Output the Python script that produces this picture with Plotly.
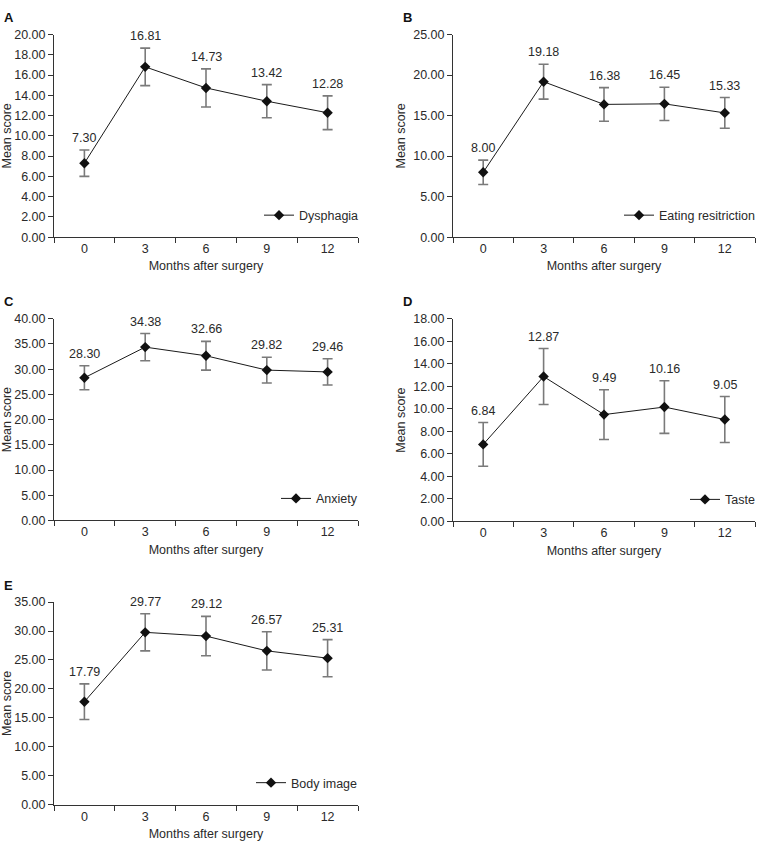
import plotly.graph_objects as go

months = ["0", "3", "6", "9", "12"]

dysphagia = [7.30, 16.81, 14.73, 13.42, 12.28]
dysphagia_err = [1.30, 1.85, 1.88, 1.64, 1.67]

eating = [8.00, 19.18, 16.38, 16.45, 15.33]
eating_err = [1.50, 2.15, 2.07, 2.05, 1.90]

anxiety = [28.30, 34.38, 32.66, 29.82, 29.46]
anxiety_err = [2.37, 2.70, 2.85, 2.56, 2.60]

taste = [6.84, 12.87, 9.49, 10.16, 9.05]
taste_err = [1.94, 2.49, 2.21, 2.34, 2.04]

body = [17.79, 29.77, 29.12, 26.57, 25.31]
body_err = [3.07, 3.20, 3.40, 3.30, 3.20]

W, H = 766, 852
FONT = "Liberation Sans, Arial, sans-serif"
TXT = "#2a2a2a"


def X(px):
    return px / W


def Y(py):
    return 1 - py / H


panels = [
    # letter, name, values, errors, ymax, dtick, (left, right, top, bottom), legend text start
    ("A", "Dysphagia", dysphagia, dysphagia_err, 20, 2, (54, 358, 28, 234), 301),
    ("B", "Eating resitriction", eating, eating_err, 25, 5, (453, 755, 28, 234), 661),
    ("C", "Anxiety", anxiety, anxiety_err, 40, 5, (54, 358, 317, 522), 318),
    ("D", "Taste", taste, taste_err, 18, 2, (453, 755, 317, 523), 727),
    ("E", "Body image", body, body_err, 35, 5, (54, 358, 605, 811), 293),
]

fig = go.Figure()
layout = dict(
    width=W, height=H,
    margin=dict(l=0, r=0, t=0, b=0),
    paper_bgcolor="white", plot_bgcolor="white",
    font=dict(family=FONT, size=12.5, color=TXT),
    annotations=[],
    hovermode=False,
)

for i, (letter, name, vals, errs, ymax, dtick, (l, r, t, b), lx) in enumerate(panels):
    k = "" if i == 0 else str(i + 1)
    xa, ya = "x" + k, "y" + k
    lg = "legend" + k
    fig.add_trace(go.Scatter(
        x=months, y=vals, name=name, mode="lines+markers",
        xaxis=xa, yaxis=ya, legend=lg,
        line=dict(color="#1a1a1a", width=1),
        marker=dict(symbol="diamond", size=8, color="#111111"),
        error_y=dict(type="data", array=errs, visible=True,
                     color="#7a7a7a", thickness=1.6, width=5),
        showlegend=True,
    ))
    for j, (v, e) in enumerate(zip(vals, errs)):
        layout["annotations"].append(dict(
            x=j, y=v + e, xref=xa, yref=ya, text=f"{v:.2f}",
            showarrow=False, yanchor="bottom", yshift=3,
            font=dict(family=FONT, size=12.5, color=TXT),
        ))
    layout["annotations"].append(dict(
        x=X(l - 52), y=Y(t - 27), xref="paper", yref="paper",
        text=f"<b>{letter}</b>", showarrow=False, xanchor="left", yanchor="top",
        font=dict(family=FONT, size=13, color="#111"),
    ))
    axis_common = dict(
        showline=True, linecolor="#333", linewidth=1,
        ticks="outside", ticklen=5, tickcolor="#333", tickwidth=1,
        showgrid=False, zeroline=False,
        tickfont=dict(family=FONT, size=12.5, color=TXT),
    )
    layout["xaxis" + k] = dict(
        axis_common, domain=[X(l), X(r)], anchor=ya,
        type="category", tickson="boundaries", range=[-0.5, 4.5],
        title=dict(text="Months after surgery", standoff=6,
                   font=dict(family=FONT, size=12.5, color=TXT)),
    )
    layout["yaxis" + k] = dict(
        axis_common, domain=[Y(b), Y(t)], anchor=xa,
        range=[0, ymax], dtick=dtick, tick0=0, tickformat=".2f",
        title=dict(text="Mean score", standoff=4,
                   font=dict(family=FONT, size=12.5, color=TXT)),
    )
    layout[lg] = dict(
        x=X(lx - 42), y=Y(b - 22), xanchor="left", yanchor="middle",
        xref="paper", yref="paper",
        bgcolor="rgba(0,0,0,0)", borderwidth=0,
        font=dict(family=FONT, size=12.5, color=TXT),
    )

fig.update_layout(**layout)
fig.write_html(
    "out.html",
    config={"displayModeBar": False, "staticPlot": True},
    post_script="document.body.style.margin='0px';document.body.style.padding='0px';",
)
